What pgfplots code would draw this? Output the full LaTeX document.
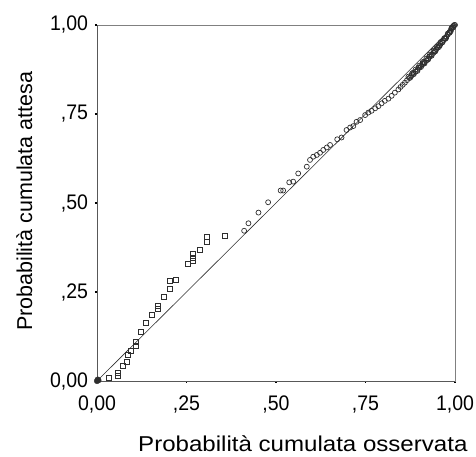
\documentclass[border=0pt]{standalone}
\usepackage{fontspec}
\setmainfont{Liberation Sans}
\usepackage{pgfplots}
\pgfplotsset{compat=1.18}
\definecolor{ink}{HTML}{2E2E2E}
\definecolor{frame}{HTML}{808080}
\newcommand{\tickfont}{\fontsize{19.5}{22}\selectfont}
\newcommand{\labfont}{\fontsize{21.5}{25}\selectfont}

\begin{document}
\begin{tikzpicture}
\path[use as bounding box] (-97pt,-76pt) rectangle (379pt,381pt);
\begin{axis}[
  at={(0,0)}, anchor=south west,
  scale only axis,
  width=358pt, height=356pt,
  xmin=0, xmax=1, ymin=0, ymax=1,
  axis line style={frame, line width=0.7pt},
  xtick={0,0.25,0.5,0.75,1},
  ytick={0,0.25,0.5,0.75,1},
  xticklabels={{0,00},{,25},{,50},{,75},{1,00}},
  yticklabels={{0,00},{,25},{,50},{,75},{1,00}},
  xtick pos=left, ytick pos=left,
  tick align=outside,
  major tick length=2pt,
  tick style={black, line width=1.2pt},
  tick label style={font=\tickfont, yscale=1.08},
  xticklabel style={yshift=-8.5pt},
  yticklabel style={xshift=-3.5pt},
  xlabel={Probabilità cumulata osservata},
  ylabel={Probabilità cumulata attesa},
  xlabel style={font=\labfont, xscale=1.12, at={(axis description cs:0.575,-0.1994)}, anchor=base},
  ylabel style={font=\labfont, at={(axis description cs:-0.181,0.505)}, anchor=base},
  clip=false,
]
% diagonale di riferimento
\addplot[ink, line width=0.6pt] coordinates {(0,0) (1,1)};
% punti bassi (quadrati)
\addplot[only marks, mark=square, mark size=2.5pt, mark options={ink, line width=0.7pt}] coordinates {
(0.032,0.009) (0.057,0.015) (0.057,0.022) (0.071,0.043) (0.083,0.054)
(0.085,0.073) (0.094,0.085) (0.108,0.098) (0.109,0.110) (0.123,0.137)
(0.137,0.162) (0.154,0.187) (0.169,0.204) (0.169,0.211) (0.186,0.237)
(0.204,0.260) (0.204,0.282) (0.221,0.284) (0.254,0.329) (0.268,0.338)
(0.268,0.346) (0.268,0.357) (0.288,0.368) (0.308,0.391) (0.308,0.405)
(0.358,0.407)
};
% punti alti (cerchi)
\addplot[only marks, mark=o, mark size=2.5pt, mark options={ink, line width=0.7pt}] coordinates {
(0.411,0.422) (0.423,0.443) (0.451,0.473) (0.478,0.502) (0.513,0.535)
(0.520,0.535) (0.537,0.558) (0.548,0.560) (0.562,0.583) (0.586,0.602)
(0.595,0.621) (0.604,0.630) (0.614,0.635) (0.623,0.641) (0.632,0.649)
(0.642,0.656) (0.651,0.663) (0.671,0.679) (0.683,0.684) (0.697,0.705)
(0.707,0.712) (0.716,0.716) (0.725,0.728) (0.735,0.733) (0.749,0.747)
(0.758,0.754) (0.767,0.759) (0.777,0.766) (0.786,0.772) (0.795,0.780)
(0.804,0.787) (0.814,0.793) (0.823,0.801) (0.832,0.810) (0.842,0.819)
(0.848,0.826) (0.854,0.832) (0.860,0.838) (0.866,0.845) (0.872,0.851)
(0.878,0.857) (0.884,0.863) (0.890,0.869) (0.895,0.874) (0.900,0.880)
(0.905,0.885) (0.910,0.890) (0.915,0.895) (0.920,0.900) (0.925,0.906)
(0.930,0.911) (0.935,0.917) (0.940,0.922) (0.944,0.927) (0.948,0.932)
(0.952,0.937) (0.956,0.942) (0.960,0.947) (0.964,0.952) (0.968,0.957)
(0.972,0.962) (0.976,0.967) (0.980,0.973) (0.984,0.979) (0.987,0.984)
(0.990,0.989) (0.992,0.993) (0.994,0.996) (0.996,0.998) (0.998,1.000)
(1.000,1.000)
(0.870,0.855) (0.880,0.864) (0.890,0.875) (0.900,0.886) (0.910,0.896)
(0.920,0.906) (0.930,0.917) (0.940,0.928) (0.950,0.939) (0.960,0.952)
(0.970,0.963) (0.980,0.976) (0.990,0.991)
(0.875,0.852) (0.885,0.862) (0.895,0.871) (0.905,0.882) (0.915,0.892)
(0.925,0.903) (0.935,0.914) (0.945,0.926) (0.955,0.938) (0.965,0.951)
(0.975,0.963) (0.985,0.978) (0.995,0.993)
(0.883,0.866) (0.898,0.880) (0.913,0.896) (0.928,0.911) (0.943,0.926)
(0.958,0.943) (0.973,0.961) (0.988,0.982)
};
% gruppo all'origine
\addplot[only marks, mark=*, mark size=2.8pt, mark options={ink}] coordinates {
(0,0) (0.004,0.002) (0.002,0.004)
};
\draw[ink!80, line width=0.8pt] (rel axis cs:0,0) -- (rel axis cs:0,1);
\draw[ink!80, line width=0.8pt] (rel axis cs:0,0) -- (rel axis cs:1,0);
\end{axis}
\end{tikzpicture}
\end{document}
